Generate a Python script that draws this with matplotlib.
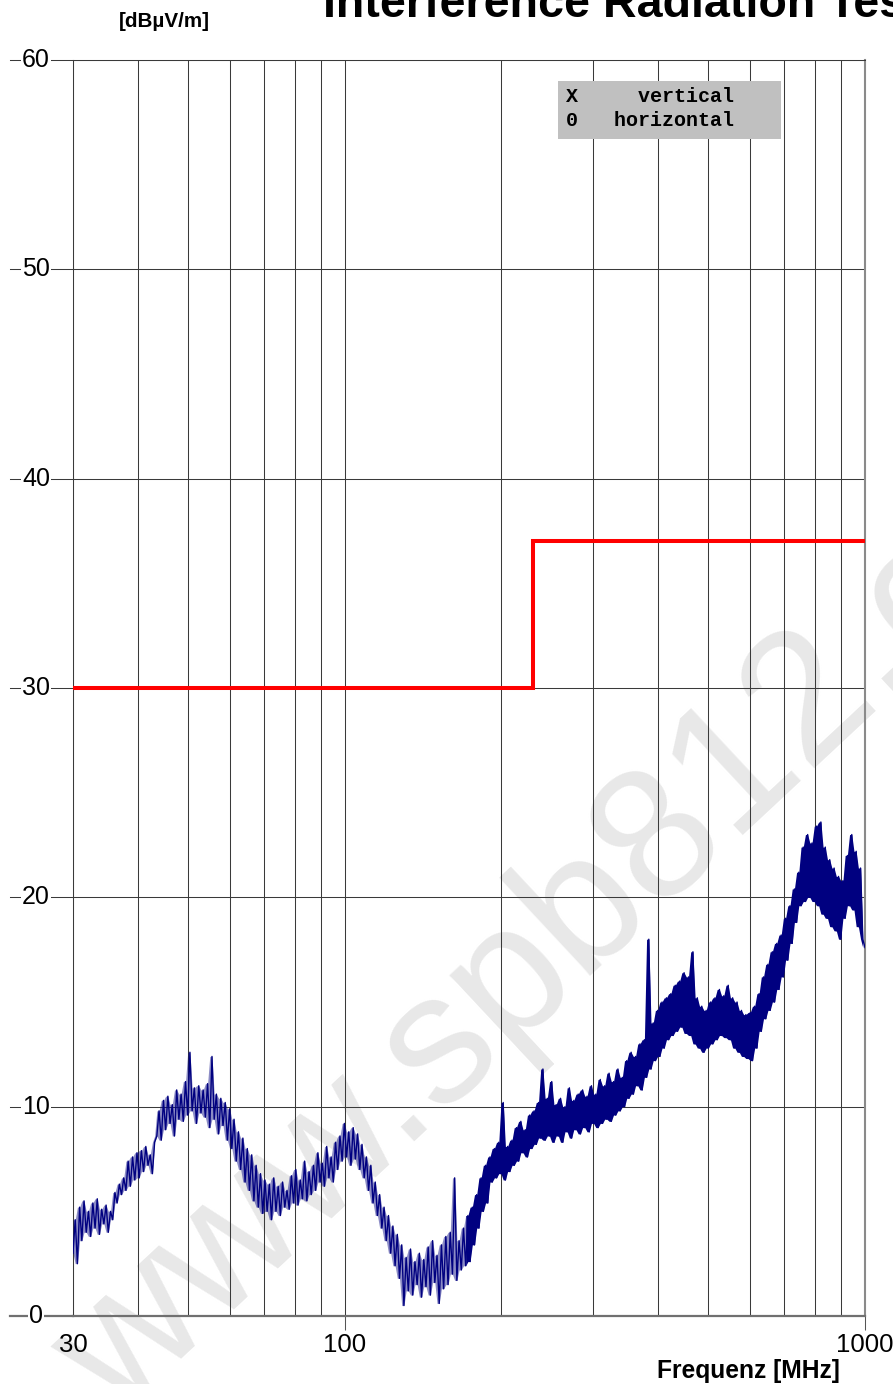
import numpy as np
import matplotlib
matplotlib.use("Agg")
import matplotlib.pyplot as plt
from matplotlib.patches import Rectangle

plt.rcParams['font.family'] = ['Liberation Sans', 'DejaVu Sans']

# ---------------- data ----------------
title = "Interference Radiation Test"
y_label = "[dBµV/m]"
x_label = "Frequenz [MHz]"
x_tick_values = [30, 100, 1000]
x_tick_labels = ["30", "100", "1000"]
y_tick_values = [0, 10, 20, 30, 40, 50, 60]
legend_lines = ["X     vertical", "0   horizontal"]

# limit line (step)
limit_freq = [30, 230, 1000]
limit_level = [30, 37, 37]

# measured trace (dBµV/m), sweep points log-spaced 30..1000 MHz
level = [
    3.0, 4.6, 2.5, 5.2, 3.6, 5.5, 4.0, 5.0, 3.8, 5.4,
    4.2, 5.6, 3.9, 5.1, 4.4, 5.3, 4.0, 5.0, 4.6, 5.9,
    5.4, 6.3, 5.8, 6.6, 6.0, 7.4, 6.2, 7.6, 6.5, 7.8,
    6.6, 7.9, 6.9, 8.1, 7.2, 7.7, 6.8, 8.3, 8.6, 9.8,
    8.4, 10.3, 8.9, 10.5, 9.2, 10.1, 8.6, 10.8, 9.4, 10.6,
    9.3, 11.2, 9.6, 12.6, 9.8, 10.9, 9.2, 11.0, 9.7, 10.8,
    9.5, 11.1, 9.0, 12.4, 9.4, 10.6, 8.7, 10.4, 9.1, 10.2,
    8.4, 9.9, 8.0, 9.4, 7.4, 8.8, 7.0, 8.5, 6.4, 8.0,
    6.0, 7.7, 5.5, 7.2, 5.2, 6.8, 4.9, 6.5, 5.0, 6.3,
    4.6, 6.6, 5.0, 6.2, 4.8, 6.4, 5.2, 6.0, 5.1, 6.7,
    5.4, 7.0, 5.3, 6.5, 5.6, 7.4, 5.5, 6.9, 5.8, 7.2,
    6.0, 7.8, 6.4, 7.3, 6.2, 8.1, 6.6, 7.6, 6.4, 8.3,
    7.0, 8.6, 7.4, 9.2, 7.6, 8.8, 7.2, 9.0, 7.5, 8.7,
    7.0, 8.2, 6.6, 7.6, 6.0, 7.2, 5.4, 6.4, 4.8, 5.8,
    4.2, 5.2, 3.6, 4.8, 3.0, 4.3, 2.4, 3.9, 1.8, 3.4,
    0.5, 2.8, 1.2, 3.2, 1.0, 2.6, 1.5, 3.0, 0.9, 2.7,
    1.4, 3.3, 1.0, 3.6, 1.6, 2.9, 0.6, 3.4, 1.3, 3.8,
    1.5, 4.0, 2.0, 6.6, 1.7, 3.6, 2.2, 4.2, 2.4, 4.8,
    2.6, 5.2, 3.4, 5.8, 4.2, 6.6, 5.0, 7.2, 5.4, 7.6,
    6.4, 8.0, 6.6, 8.3, 6.8, 10.2, 6.5, 8.1, 6.9, 8.4,
    7.2, 9.0, 7.4, 9.3, 7.8, 8.9, 7.6, 9.6, 8.0, 9.8,
    8.2, 10.2, 8.5, 11.8, 8.4, 10.4, 8.6, 11.2, 8.3, 10.1,
    8.6, 10.4, 8.3, 10.0, 8.8, 10.9, 8.5, 10.3, 8.9, 10.6,
    8.7, 10.8, 9.0, 10.5, 8.8, 11.0, 9.2, 10.6, 9.0, 11.3,
    9.2, 11.0, 9.4, 11.6, 9.3, 11.2, 9.6, 11.8, 9.8, 11.4,
    10.0, 12.2, 10.4, 12.6, 10.6, 12.4, 11.0, 13.0, 10.8, 13.2,
    11.4, 18.0, 11.8, 14.0, 12.2, 14.6, 12.4, 15.0, 12.8, 15.2,
    13.2, 15.4, 13.4, 15.8, 13.6, 16.0, 13.8, 16.4, 13.5, 16.2,
    13.4, 17.4, 13.0, 15.2, 12.8, 14.8, 12.6, 14.6, 12.8, 15.0,
    13.0, 15.2, 13.2, 15.6, 13.4, 15.3, 13.3, 15.8, 13.2, 15.2,
    12.8, 15.0, 12.6, 14.6, 12.4, 14.4, 12.3, 14.5, 12.2, 14.8,
    12.8, 15.4, 13.6, 16.2, 14.2, 16.8, 14.6, 17.4, 15.0, 17.8,
    15.6, 18.2, 16.2, 19.0, 17.0, 19.6, 17.8, 20.4, 18.8, 21.2,
    19.6, 22.4, 19.8, 23.0, 20.0, 22.6, 19.8, 23.4, 19.6, 23.6,
    19.2, 22.4, 19.0, 21.8, 18.6, 21.4, 18.4, 21.0, 18.0, 20.8,
    19.0, 22.0, 19.6, 23.0, 19.4, 22.2, 18.6, 21.4, 18.0, 17.6,
]
freq = np.geomspace(30, 1000, len(level))
level_arr = np.array(level)

# ---------------- figure ----------------
W, H = 893, 1384
fig = plt.figure(figsize=(W / 100, H / 100), dpi=100)
fig.patch.set_facecolor('white')


def fx(px):
    return px / W


def fy(py):
    return (H - py) / H


ax = fig.add_axes([fx(73), fy(1316), 792 / W, 1256 / H])
ax.set_facecolor('none')
ax.set_xscale('log')
ax.set_xlim(30, 1000)
ax.set_ylim(0, 60)

# watermark (behind axes)
fig.text(fx(118), fy(1418), "www.spb812.com", fontsize=133, color='#e8e8e8',
         rotation=43, rotation_mode='anchor', ha='left', va='baseline', zorder=-5)

# grid
grid_col = '#3a3a3a'
ax.xaxis.set_minor_locator(matplotlib.ticker.LogLocator(base=10, subs=np.arange(2, 10)))
ax.xaxis.set_minor_formatter(matplotlib.ticker.NullFormatter())
ax.tick_params(axis='x', which='minor', length=0)
ax.grid(True, which='both', axis='x', color=grid_col, lw=0.75)
ax.set_yticks(y_tick_values)
ax.grid(True, which='major', axis='y', color=grid_col, lw=0.75)
ax.set_axisbelow(True)

# spines
ax.spines['left'].set_color(grid_col)
ax.spines['left'].set_linewidth(0.75)
ax.spines['top'].set_color(grid_col)
ax.spines['top'].set_linewidth(0.75)
ax.spines['right'].set_color('#8a8a8a')
ax.spines['right'].set_linewidth(1.5)
ax.spines['bottom'].set_color('#707070')
ax.spines['bottom'].set_linewidth(1.6)

# x ticks
ax.set_xticks(x_tick_values)
ax.set_xticklabels(x_tick_labels)
ax.tick_params(axis='x', which='major', length=10, width=0.75, color='#555555',
               pad=2, labelsize=18.5)
ax.xaxis.get_major_ticks()[0].tick1line.set_visible(False)

# y ticks: long marks through labels
ax.tick_params(axis='y', which='major', length=0, labelleft=False)
for yv in y_tick_values:
    col = '#707070' if yv == 0 else grid_col
    lw = 1.6 if yv == 0 else 0.75
    ax.plot([-63 / 792, 0], [yv, yv], transform=ax.get_yaxis_transform(),
            color=col, lw=lw, clip_on=False, zorder=1)
    ax.text(-37 / 792, yv, str(yv), transform=ax.get_yaxis_transform(),
            ha='center', va='center', fontsize=18, color='black',
            bbox=dict(facecolor='white', edgecolor='none', pad=0.5), zorder=2)

# limit line
ax.plot(limit_freq, limit_level, drawstyle='steps-post', color='#ff0000', lw=2.9,
        zorder=4, solid_joinstyle='miter')

# trace: dense sweep -> filled band between neighbouring samples
navy = '#000080'
upper = np.maximum(level_arr[:-1], level_arr[1:])
lower = np.minimum(level_arr[:-1], level_arr[1:])
dense = freq[:-1] >= 170
ax.fill_between(freq[:-1], lower, upper, where=dense, color=navy, lw=0,
                zorder=3)
ax.fill_between(freq[:-1], lower, upper, where=freq[:-1] <= 172, color=navy,
                alpha=0.45, lw=0, zorder=3)
ax.plot(freq, level, color=navy, lw=1.0, zorder=3)

# texts
fig.text(fx(323), fy(17), title, fontsize=33.6, fontweight='bold',
         ha='left', va='baseline')
fig.text(fx(164), fy(27), y_label, fontsize=14.9, fontweight='bold',
         ha='center', va='baseline')
fig.text(fx(840), fy(1378), x_label, fontsize=17.7, fontweight='bold',
         ha='right', va='baseline')

# legend box
fig.add_artist(Rectangle((fx(558), fy(139)), (781 - 558) / W, (139 - 81) / H,
                         transform=fig.transFigure, facecolor='#c0c0c0',
                         edgecolor='none', zorder=5))
for i, txt in enumerate(legend_lines):
    fig.text(fx(566), fy(97 + 23 * i), txt, fontsize=14.4, fontweight='bold',
             family=['Liberation Mono', 'DejaVu Sans Mono'],
             ha='left', va='center', zorder=6)

fig.savefig('out.png', dpi=100)
